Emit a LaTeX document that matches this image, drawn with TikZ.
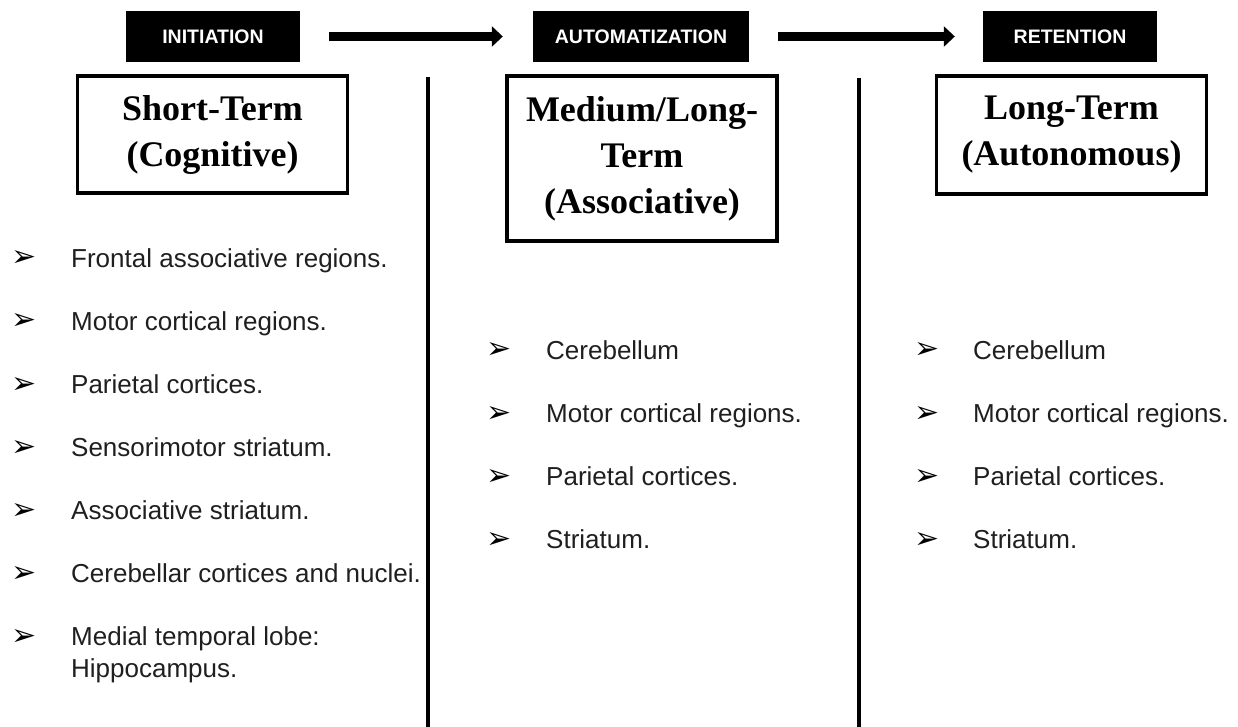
\documentclass[tikz,border=0pt]{standalone}
\usepackage{fontspec}
\setmainfont{Liberation Serif}
\newfontfamily\arialfont{Liberation Sans}
\newfontfamily\symbfont{DejaVu Sans}
\usetikzlibrary{arrows.meta}
\begin{document}
\begin{tikzpicture}[x=1pt,y=-1pt,
  stagebox/.style={fill=black, text=white, font=\arialfont\bfseries\fontsize{19.5}{23}\selectfont, minimum height=51pt, inner sep=0pt},
  termbox/.style={draw=black, line width=3.5pt, font=\bfseries\fontsize{36}{46}\selectfont, align=center, minimum width=270pt, inner sep=0pt},
  item/.style={anchor=base west, font=\arialfont\fontsize{26}{32}\selectfont, inner sep=0pt, text=black!88},
  bul/.style={font=\symbfont\fontsize{30}{34}\selectfont, inner sep=0pt, text=black},
  flow/.style={line width=8.5pt, -{Triangle[length=11pt,width=20pt]}, shorten <=29pt, shorten >=30pt},
  divider/.style={line width=4pt}
]
\useasboundingbox (0,0) rectangle (1238,727);

% stage labels
\node[stagebox, minimum width=174pt] (s1) at (213,36.5) {INITIATION};
\node[stagebox, minimum width=216pt] (s2) at (641,36.5) {AUTOMATIZATION};
\node[stagebox, minimum width=174pt] (s3) at (1070,36.5) {RETENTION};
\draw[flow] (s1) -- (s2);
\draw[flow, shorten <=29pt, shorten >=28pt] (s2) -- (s3);

% term boxes
\node[termbox, minimum height=117pt] (t1) at (212.5,134.5) {Short-Term\\(Cognitive)};
\node[termbox, minimum height=165pt] (t2) at (642,158.5) {Medium/Long-\\Term\\(Associative)};
\node[termbox, minimum height=118pt] (t3) at (1071.5,135) {Long-Term\\(Autonomous)};

% dividers
\coordinate (v1top) at (428,77);
\coordinate (v1bot) at (428,727);
\coordinate (v2top) at (859,78);
\coordinate (v2bot) at (859,727);
\draw[divider] (v1top) -- (v1bot);
\draw[divider] (v2top) -- (v2bot);

% left column
\foreach \txt/\yy [count=\i] in {Frontal associative regions./258,
  Motor cortical regions./321, Parietal cortices./384,
  Sensorimotor striatum./447, Associative striatum./510,
  Cerebellar cortices and nuclei./573}{
  \node[bul] (lb\i) at (24,\yy+1) {➢};
  \node[item] (l\i) at (71,\yy+9) {\txt};
}
\node[bul] (lb7) at (24,637) {➢};
\node[item, align=left] (l7) at (71,677) {Medial temporal lobe:\\Hippocampus.};

% middle column
\foreach \txt/\yy [count=\i] in {Cerebellum/350, Motor cortical regions./413,
  Parietal cortices./476, Striatum./539}{
  \node[bul] (mb\i) at (499.5,\yy+1) {➢};
  \node[item] (m\i) at (546,\yy+9) {\txt};
}

% right column
\foreach \txt/\yy [count=\i] in {Cerebellum/350, Motor cortical regions./413,
  Parietal cortices./476, Striatum./539}{
  \node[bul] (rb\i) at (927.5,\yy+1) {➢};
  \node[item] (r\i) at (973,\yy+9) {\txt};
}
\end{tikzpicture}
\end{document}
